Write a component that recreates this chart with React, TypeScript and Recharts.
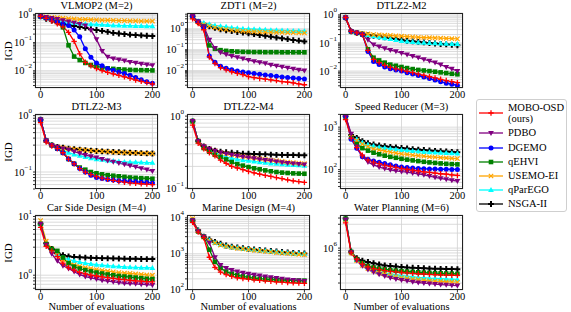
import React from "react";
import { LineChart, Line, XAxis, YAxis, CartesianGrid } from "recharts";

// ── Data (IGD, every 10 evaluations) ─────────────────────────────────────────

const EVALS = [0, 10, 20, 30, 40, 50, 60, 70, 80, 90, 100, 110, 120, 130, 140, 150, 160, 170, 180, 190, 200];
const X_TICKS = [0, 100, 200];

// VLMOP2 (M=2)
const VLMOP2_MOBO = [0.85, 0.72, 0.58, 0.46, 0.36, 0.23, 0.11, 0.04, 0.02, 0.015, 0.012, 0.0102, 0.0088, 0.0078, 0.0069, 0.0061, 0.0054, 0.0047, 0.0042, 0.0038, 0.0034];
const VLMOP2_PDBO = [0.85, 0.8, 0.74, 0.68, 0.62, 0.56, 0.5, 0.45, 0.4, 0.28, 0.13, 0.05, 0.031, 0.027, 0.025, 0.023, 0.0205, 0.019, 0.0175, 0.0166, 0.0157];
const VLMOP2_DGEMO = [0.85, 0.75, 0.65, 0.55, 0.47, 0.4, 0.28, 0.16, 0.06, 0.03, 0.019, 0.015, 0.012, 0.0104, 0.0091, 0.008, 0.0069, 0.0058, 0.0048, 0.0041, 0.0036];
const VLMOP2_QEHVI = [0.85, 0.75, 0.65, 0.55, 0.35, 0.08, 0.032, 0.024, 0.019, 0.016, 0.0145, 0.013, 0.0122, 0.0117, 0.0113, 0.011, 0.0108, 0.0106, 0.0105, 0.0104, 0.0103];
const VLMOP2_USEMO = [0.85, 0.82, 0.79, 0.76, 0.73, 0.71, 0.69, 0.67, 0.66, 0.65, 0.64, 0.63, 0.62, 0.61, 0.6, 0.6, 0.59, 0.59, 0.58, 0.58, 0.58];
const VLMOP2_QPAREGO = [0.85, 0.76, 0.68, 0.62, 0.57, 0.53, 0.5, 0.48, 0.46, 0.45, 0.44, 0.43, 0.42, 0.41, 0.41, 0.4, 0.4, 0.39, 0.39, 0.38, 0.38];
const VLMOP2_NSGA = [0.85, 0.7, 0.6, 0.52, 0.47, 0.43, 0.39, 0.36, 0.33, 0.3, 0.28, 0.26, 0.24, 0.22, 0.21, 0.2, 0.19, 0.185, 0.18, 0.175, 0.17];

// ZDT1 (M=2)
const ZDT1_MOBO = [3.0, 1.8, 0.9, 0.045, 0.022, 0.014, 0.011, 0.0088, 0.0074, 0.0064, 0.0051, 0.0046, 0.0042, 0.0039, 0.0036, 0.0033, 0.003, 0.0028, 0.0026, 0.0023, 0.0021];
const ZDT1_PDBO = [4.0, 2.2, 1.3, 0.3, 0.12, 0.075, 0.06, 0.05, 0.043, 0.037, 0.032, 0.028, 0.025, 0.022, 0.019, 0.017, 0.015, 0.0135, 0.012, 0.011, 0.01];
const ZDT1_DGEMO = [4.0, 2.2, 1.2, 0.05, 0.025, 0.016, 0.013, 0.011, 0.0095, 0.0085, 0.0078, 0.0072, 0.0067, 0.0062, 0.0058, 0.0054, 0.005, 0.0047, 0.0044, 0.0042, 0.004];
const ZDT1_QEHVI = [4.0, 2.2, 1.3, 0.16, 0.11, 0.095, 0.088, 0.084, 0.081, 0.079, 0.078, 0.077, 0.077, 0.076, 0.076, 0.076, 0.075, 0.075, 0.075, 0.075, 0.075];
const ZDT1_USEMO = [4.0, 2.1, 1.6, 1.35, 1.15, 1.0, 0.93, 0.87, 0.82, 0.78, 0.75, 0.73, 0.71, 0.7, 0.69, 0.68, 0.67, 0.66, 0.65, 0.64, 0.63];
const ZDT1_QPAREGO = [4.0, 2.3, 1.9, 1.65, 1.45, 1.35, 1.25, 1.15, 1.08, 1.03, 1.0, 0.96, 0.93, 0.9, 0.87, 0.85, 0.83, 0.81, 0.8, 0.79, 0.78];
const ZDT1_NSGA = [4.0, 2.1, 1.6, 1.3, 1.1, 0.95, 0.85, 0.78, 0.7, 0.65, 0.6, 0.55, 0.5, 0.46, 0.42, 0.38, 0.35, 0.32, 0.29, 0.27, 0.25];

// DTLZ2-M2
const M2_MOBO = [0.8, 0.26, 0.23, 0.2, 0.055, 0.026, 0.02, 0.016, 0.0135, 0.012, 0.011, 0.0098, 0.0088, 0.0078, 0.007, 0.0063, 0.0057, 0.0051, 0.0046, 0.0042, 0.0039];
const M2_PDBO = [0.8, 0.26, 0.23, 0.2, 0.13, 0.087, 0.075, 0.065, 0.056, 0.05, 0.044, 0.039, 0.034, 0.03, 0.026, 0.023, 0.02, 0.017, 0.014, 0.012, 0.01];
const M2_DGEMO = [0.8, 0.26, 0.23, 0.2, 0.05, 0.022, 0.017, 0.014, 0.012, 0.011, 0.01, 0.0088, 0.0078, 0.0069, 0.0061, 0.0054, 0.0048, 0.0042, 0.0037, 0.0034, 0.0031];
const M2_QEHVI = [0.8, 0.26, 0.23, 0.2, 0.06, 0.03, 0.024, 0.02, 0.017, 0.0155, 0.014, 0.0128, 0.0118, 0.011, 0.0105, 0.01, 0.0095, 0.009, 0.0085, 0.008, 0.0077];
const M2_USEMO = [0.8, 0.26, 0.23, 0.22, 0.21, 0.2, 0.195, 0.19, 0.185, 0.18, 0.175, 0.17, 0.165, 0.16, 0.157, 0.154, 0.151, 0.148, 0.145, 0.142, 0.14];
const M2_QPAREGO = [0.8, 0.26, 0.23, 0.21, 0.19, 0.175, 0.16, 0.15, 0.14, 0.13, 0.12, 0.115, 0.11, 0.105, 0.102, 0.1, 0.098, 0.096, 0.094, 0.093, 0.092];
const M2_NSGA = [0.8, 0.26, 0.23, 0.21, 0.19, 0.18, 0.17, 0.16, 0.15, 0.14, 0.13, 0.12, 0.115, 0.11, 0.105, 0.1, 0.096, 0.092, 0.089, 0.086, 0.083];

// DTLZ2-M3
const M3_MOBO = [0.75, 0.34, 0.29, 0.26, 0.22, 0.17, 0.14, 0.115, 0.1, 0.09, 0.083, 0.078, 0.074, 0.071, 0.068, 0.066, 0.064, 0.063, 0.062, 0.061, 0.06];
const M3_PDBO = [0.85, 0.36, 0.3, 0.28, 0.26, 0.25, 0.23, 0.215, 0.2, 0.19, 0.18, 0.17, 0.16, 0.152, 0.144, 0.137, 0.13, 0.123, 0.116, 0.11, 0.104];
const M3_DGEMO = [0.85, 0.36, 0.3, 0.26, 0.22, 0.17, 0.14, 0.115, 0.1, 0.088, 0.08, 0.077, 0.074, 0.072, 0.07, 0.069, 0.068, 0.067, 0.066, 0.065, 0.064];
const M3_QEHVI = [0.85, 0.36, 0.3, 0.26, 0.22, 0.17, 0.14, 0.12, 0.11, 0.1, 0.095, 0.091, 0.088, 0.086, 0.084, 0.082, 0.08, 0.079, 0.078, 0.077, 0.076];
const M3_USEMO = [0.85, 0.36, 0.3, 0.28, 0.27, 0.26, 0.255, 0.25, 0.245, 0.24, 0.235, 0.232, 0.229, 0.226, 0.224, 0.222, 0.22, 0.218, 0.216, 0.214, 0.212];
const M3_QPAREGO = [0.85, 0.36, 0.3, 0.27, 0.24, 0.22, 0.205, 0.195, 0.185, 0.177, 0.17, 0.165, 0.16, 0.157, 0.154, 0.152, 0.15, 0.149, 0.148, 0.147, 0.146];
const M3_NSGA = [0.85, 0.36, 0.3, 0.28, 0.27, 0.26, 0.255, 0.25, 0.245, 0.24, 0.236, 0.233, 0.23, 0.227, 0.225, 0.222, 0.22, 0.218, 0.216, 0.215, 0.213];

// DTLZ2-M4 (no DGEMO)
const M4_MOBO = [0.75, 0.42, 0.35, 0.31, 0.28, 0.245, 0.22, 0.2, 0.19, 0.18, 0.17, 0.163, 0.156, 0.15, 0.145, 0.14, 0.135, 0.13, 0.126, 0.123, 0.12];
const M4_PDBO = [0.85, 0.45, 0.38, 0.35, 0.33, 0.31, 0.3, 0.29, 0.28, 0.272, 0.265, 0.258, 0.251, 0.245, 0.24, 0.234, 0.228, 0.223, 0.219, 0.215, 0.211];
const M4_QEHVI = [0.85, 0.45, 0.36, 0.32, 0.29, 0.27, 0.25, 0.23, 0.215, 0.205, 0.196, 0.188, 0.182, 0.176, 0.171, 0.167, 0.164, 0.162, 0.16, 0.159, 0.158];
const M4_USEMO = [0.85, 0.45, 0.38, 0.35, 0.33, 0.31, 0.3, 0.29, 0.282, 0.275, 0.268, 0.262, 0.256, 0.25, 0.245, 0.24, 0.235, 0.23, 0.226, 0.222, 0.218];
const M4_QPAREGO = [0.85, 0.45, 0.37, 0.33, 0.31, 0.29, 0.27, 0.26, 0.25, 0.245, 0.24, 0.235, 0.23, 0.225, 0.22, 0.218, 0.215, 0.212, 0.21, 0.208, 0.205];
const M4_NSGA = [0.85, 0.45, 0.38, 0.35, 0.33, 0.32, 0.315, 0.31, 0.305, 0.3, 0.3, 0.298, 0.296, 0.294, 0.292, 0.29, 0.289, 0.288, 0.287, 0.286, 0.285];

// Speed Reducer (M=3)
const SR_MOBO = [1500, 550, 330, 220, 170, 150, 138, 128, 120, 113, 107, 102, 97, 93, 89, 86, 83, 80, 78, 75, 73];
const SR_PDBO = [1800, 700, 350, 200, 150, 130, 115, 106, 99, 94, 90, 87, 83, 79, 75, 70, 66, 62, 59, 56, 54];
const SR_DGEMO = [1800, 520, 320, 200, 175, 160, 150, 140, 130, 122, 116, 112, 109, 107, 105, 104, 103, 102, 102, 101, 101];
const SR_QEHVI = [1800, 550, 400, 320, 280, 250, 230, 213, 200, 190, 180, 172, 165, 159, 153, 148, 144, 140, 137, 135, 133];
const SR_USEMO = [1800, 580, 480, 400, 350, 310, 290, 272, 258, 246, 236, 228, 220, 213, 207, 201, 196, 192, 188, 185, 182];
const SR_QPAREGO = [1800, 600, 520, 440, 390, 360, 340, 325, 312, 300, 290, 282, 275, 268, 262, 257, 253, 250, 247, 244, 241];
const SR_NSGA = [1800, 650, 560, 470, 420, 390, 370, 355, 345, 335, 325, 315, 305, 297, 290, 283, 277, 272, 267, 262, 258];

// Car Side Design (M=4, no DGEMO)
const CS_MOBO = [6.5, 3.1, 2.6, 2.1, 1.6, 1.35, 1.22, 1.12, 1.05, 1.0, 0.97, 0.94, 0.91, 0.88, 0.86, 0.84, 0.82, 0.8, 0.79, 0.78, 0.77];
const CS_PDBO = [7.5, 3.3, 2.3, 1.75, 1.45, 1.3, 1.15, 1.02, 0.95, 0.9, 0.86, 0.82, 0.79, 0.77, 0.75, 0.73, 0.72, 0.71, 0.7, 0.69, 0.68];
const CS_QEHVI = [7.5, 3.4, 2.8, 2.6, 2.0, 1.6, 1.4, 1.3, 1.22, 1.16, 1.11, 1.07, 1.03, 1.0, 0.97, 0.95, 0.93, 0.91, 0.89, 0.87, 0.86];
const CS_USEMO = [8.5, 3.8, 2.8, 2.2, 1.85, 1.65, 1.5, 1.42, 1.35, 1.3, 1.25, 1.21, 1.17, 1.14, 1.11, 1.09, 1.07, 1.05, 1.03, 1.01, 1.0];
const CS_QPAREGO = [7.5, 3.5, 2.7, 2.3, 2.0, 1.85, 1.75, 1.67, 1.61, 1.56, 1.52, 1.49, 1.46, 1.43, 1.41, 1.39, 1.37, 1.36, 1.35, 1.34, 1.33];
const CS_NSGA = [7.5, 3.5, 2.8, 2.4, 2.2, 2.1, 2.05, 2.02, 2.0, 1.98, 1.96, 1.95, 1.94, 1.93, 1.92, 1.91, 1.9, 1.9, 1.89, 1.88, 1.88];

// Marine Design (M=4, no DGEMO)
const MD_MOBO = [7500, 4000, 2800, 800, 420, 310, 265, 235, 215, 205, 197, 189, 182, 176, 171, 166, 162, 158, 155, 152, 150];
const MD_PDBO = [8500, 4200, 3000, 2000, 800, 480, 400, 350, 320, 295, 275, 260, 245, 232, 220, 210, 200, 192, 185, 178, 172];
const MD_QEHVI = [8500, 4200, 3000, 1300, 600, 400, 320, 280, 255, 235, 220, 210, 202, 196, 192, 188, 185, 183, 181, 180, 179];
const MD_USEMO = [9500, 4300, 2900, 2300, 2000, 1750, 1600, 1500, 1420, 1360, 1300, 1250, 1200, 1160, 1120, 1080, 1050, 1020, 990, 960, 940];
const MD_QPAREGO = [8500, 4400, 3000, 2400, 2050, 1800, 1630, 1520, 1450, 1390, 1340, 1290, 1250, 1210, 1170, 1130, 1090, 1060, 1030, 1010, 990];
const MD_NSGA = [8500, 4500, 3000, 2500, 2150, 1900, 1700, 1580, 1500, 1430, 1370, 1320, 1280, 1240, 1200, 1160, 1120, 1090, 1060, 1040, 1020];

// Water Planning (M=6, no DGEMO)
const WP_MOBO = [3.2e6, 8.0e5, 6.0e5, 4.8e5, 4.2e5, 3.9e5, 3.7e5, 3.55e5, 3.43e5, 3.33e5, 3.25e5, 3.18e5, 3.12e5, 3.07e5, 3.03e5, 2.99e5, 2.95e5, 2.92e5, 2.89e5, 2.86e5, 2.84e5];
const WP_PDBO = [3.7e6, 8.2e5, 5.6e5, 4.4e5, 3.7e5, 3.3e5, 3.0e5, 2.75e5, 2.55e5, 2.4e5, 2.3e5, 2.2e5, 2.12e5, 2.05e5, 1.99e5, 1.94e5, 1.9e5, 1.86e5, 1.83e5, 1.8e5, 1.78e5];
const WP_QEHVI = [3.9e6, 8.4e5, 6.0e5, 5.0e5, 4.4e5, 4.1e5, 3.9e5, 3.75e5, 3.65e5, 3.55e5, 3.47e5, 3.4e5, 3.34e5, 3.28e5, 3.23e5, 3.19e5, 3.16e5, 3.13e5, 3.1e5, 3.08e5, 3.05e5];
const WP_USEMO = [3.7e6, 8.0e5, 5.6e5, 4.5e5, 3.9e5, 3.5e5, 3.2e5, 3.0e5, 2.8e5, 2.65e5, 2.55e5, 2.47e5, 2.4e5, 2.33e5, 2.27e5, 2.22e5, 2.18e5, 2.15e5, 2.12e5, 2.1e5, 2.08e5];
const WP_QPAREGO = [3.7e6, 8.3e5, 5.8e5, 4.7e5, 4.1e5, 3.7e5, 3.4e5, 3.2e5, 3.05e5, 2.93e5, 2.83e5, 2.74e5, 2.67e5, 2.6e5, 2.55e5, 2.5e5, 2.47e5, 2.44e5, 2.41e5, 2.39e5, 2.37e5];
const WP_NSGA = [3.9e6, 8.5e5, 6.3e5, 5.6e5, 5.3e5, 5.0e5, 4.7e5, 4.5e5, 4.4e5, 4.3e5, 4.2e5, 4.1e5, 4.05e5, 4.0e5, 3.95e5, 3.9e5, 3.87e5, 3.84e5, 3.82e5, 3.8e5, 3.78e5];

// ── Series styling ──────────────────────────────────────────────────────────

type Shape = "plus" | "tridown" | "circle" | "square" | "x" | "triup" | "fatplus";

const SERIES: { key: string; name: string; color: string; shape: Shape }[] = [
  { key: "mobo", name: "MOBO-OSD", color: "#ff0000", shape: "plus" },
  { key: "pdbo", name: "PDBO", color: "#800080", shape: "tridown" },
  { key: "dgemo", name: "DGEMO", color: "#0000ff", shape: "circle" },
  { key: "qehvi", name: "qEHVI", color: "#008000", shape: "square" },
  { key: "usemo", name: "USEMO-EI", color: "#ffa500", shape: "x" },
  { key: "qparego", name: "qParEGO", color: "#00ffff", shape: "triup" },
  { key: "nsga", name: "NSGA-II", color: "#000000", shape: "fatplus" },
];

const PANELS = [
  { title: "VLMOP2 (M=2)", col: 0, row: 0, domain: [0.00245, 1.12], series: { mobo: VLMOP2_MOBO, pdbo: VLMOP2_PDBO, dgemo: VLMOP2_DGEMO, qehvi: VLMOP2_QEHVI, usemo: VLMOP2_USEMO, qparego: VLMOP2_QPAREGO, nsga: VLMOP2_NSGA } },
  { title: "ZDT1 (M=2)", col: 1, row: 0, domain: [0.00147, 5.7], series: { mobo: ZDT1_MOBO, pdbo: ZDT1_PDBO, dgemo: ZDT1_DGEMO, qehvi: ZDT1_QEHVI, usemo: ZDT1_USEMO, qparego: ZDT1_QPAREGO, nsga: ZDT1_NSGA } },
  { title: "DTLZ2-M2", col: 2, row: 0, domain: [0.0025, 1.17], series: { mobo: M2_MOBO, pdbo: M2_PDBO, dgemo: M2_DGEMO, qehvi: M2_QEHVI, usemo: M2_USEMO, qparego: M2_QPAREGO, nsga: M2_NSGA } },
  { title: "DTLZ2-M3", col: 0, row: 1, domain: [0.05, 1.07], series: { mobo: M3_MOBO, pdbo: M3_PDBO, dgemo: M3_DGEMO, qehvi: M3_QEHVI, usemo: M3_USEMO, qparego: M3_QPAREGO, nsga: M3_NSGA } },
  { title: "DTLZ2-M4", col: 1, row: 1, domain: [0.097, 1.07], series: { mobo: M4_MOBO, pdbo: M4_PDBO, qehvi: M4_QEHVI, usemo: M4_USEMO, qparego: M4_QPAREGO, nsga: M4_NSGA } },
  { title: "Speed Reducer (M=3)", col: 2, row: 1, domain: [35, 2040], series: { mobo: SR_MOBO, pdbo: SR_PDBO, dgemo: SR_DGEMO, qehvi: SR_QEHVI, usemo: SR_USEMO, qparego: SR_QPAREGO, nsga: SR_NSGA } },
  { title: "Car Side Design (M=4)", col: 0, row: 2, domain: [0.56, 10.6], series: { mobo: CS_MOBO, pdbo: CS_PDBO, qehvi: CS_QEHVI, usemo: CS_USEMO, qparego: CS_QPAREGO, nsga: CS_NSGA } },
  { title: "Marine Design (M=4)", col: 1, row: 2, domain: [98, 12000], series: { mobo: MD_MOBO, pdbo: MD_PDBO, qehvi: MD_QEHVI, usemo: MD_USEMO, qparego: MD_QPAREGO, nsga: MD_NSGA } },
  { title: "Water Planning (M=6)", col: 2, row: 2, domain: [1.45e5, 4.6e6], series: { mobo: WP_MOBO, pdbo: WP_PDBO, qehvi: WP_QEHVI, usemo: WP_USEMO, qparego: WP_QPAREGO, nsga: WP_NSGA } },
];

// ── Layout ──────────────────────────────────────────────────────────────────

const FONT = '"Liberation Serif", "Times New Roman", Times, "DejaVu Serif", serif';
const COL_X = [35, 187, 340];
const ROW_Y = [13, 114, 215];
const PLOT_W = 123;
const PLOT_H = 75;
const Y_AXIS_W = 36;
const X_AXIS_H = 13;
const TOP_PAD = 10;

// major + minor log ticks inside the domain
function logTicks([lo, hi]: number[]) {
  const out: number[] = [];
  for (let e = Math.floor(Math.log10(lo)); e <= Math.ceil(Math.log10(hi)); e++) {
    for (let k = 1; k <= 9; k++) {
      const v = k * Math.pow(10, e);
      if (v >= lo && v <= hi) out.push(v);
    }
  }
  return out;
}

function LogTick(props: any) {
  const { x, y, payload } = props;
  const l = Math.log10(payload.value);
  const e = Math.round(l);
  if (Math.abs(l - e) > 1e-6) return <g />;
  const exp = e < 0 ? "\u2212" + -e : String(e);
  return (
    <text x={x} y={y} textAnchor="end" dominantBaseline="central" fontFamily={FONT} fontSize={10.5} fill="#000">
      10
      <tspan dy={-4.5} fontSize={7}>{exp}</tspan>
    </text>
  );
}

function Marker({ shape, cx, cy, color }: { shape: Shape; cx: number; cy: number; color: string }) {
  switch (shape) {
    case "plus":
      return <path d={`M${cx - 2.7},${cy}H${cx + 2.7}M${cx},${cy - 2.7}V${cy + 2.7}`} stroke={color} strokeWidth={1.3} />;
    case "tridown":
      return <polygon points={`${cx - 2.9},${cy - 2.1} ${cx + 2.9},${cy - 2.1} ${cx},${cy + 2.9}`} fill={color} />;
    case "circle":
      return <circle cx={cx} cy={cy} r={2.5} fill={color} />;
    case "square":
      return <rect x={cx - 2.3} y={cy - 2.3} width={4.6} height={4.6} fill={color} />;
    case "x":
      return <path d={`M${cx - 2.2},${cy - 2.2}L${cx + 2.2},${cy + 2.2}M${cx - 2.2},${cy + 2.2}L${cx + 2.2},${cy - 2.2}`} stroke={color} strokeWidth={1.2} />;
    case "triup":
      return <polygon points={`${cx - 2.9},${cy + 2.1} ${cx + 2.9},${cy + 2.1} ${cx},${cy - 2.9}`} fill={color} />;
    default: {
      const a = 2.9, b = 1.0;
      return (
        <polygon
          points={`${cx - b},${cy - a} ${cx + b},${cy - a} ${cx + b},${cy - b} ${cx + a},${cy - b} ${cx + a},${cy + b} ${cx + b},${cy + b} ${cx + b},${cy + a} ${cx - b},${cy + a} ${cx - b},${cy + b} ${cx - a},${cy + b} ${cx - a},${cy - b} ${cx - b},${cy - b}`}
          fill={color}
        />
      );
    }
  }
}

const makeDot = (shape: Shape, color: string) => (props: any) => {
  const { cx, cy, index } = props;
  if (cx == null || cy == null) return <g key={index} />;
  return <Marker key={index} shape={shape} cx={cx} cy={cy} color={color} />;
};

function Panel({ cfg }: { cfg: (typeof PANELS)[number] }) {
  const series = cfg.series as Record<string, number[] | undefined>;
  const rows = EVALS.map((x, i) => {
    const r: Record<string, number> = { x };
    SERIES.forEach((s) => {
      const arr = series[s.key];
      if (arr) r[s.key] = arr[i];
    });
    return r;
  });
  const left = COL_X[cfg.col];
  const top = ROW_Y[cfg.row];
  // draw MOBO-OSD last so it sits on top
  const drawOrder = [...SERIES].reverse().filter((s) => series[s.key]);

  return (
    <>
      <div style={{ position: "absolute", left: left - 10, top: top - 13, width: PLOT_W + 20, textAlign: "center", fontSize: 10.5, lineHeight: "12px", whiteSpace: "nowrap" }}>
        {cfg.title}
      </div>
      <div style={{ position: "absolute", left: left - Y_AXIS_W, top: top - TOP_PAD }}>
        <LineChart width={Y_AXIS_W + PLOT_W + 6} height={TOP_PAD + PLOT_H + X_AXIS_H} data={rows} margin={{ top: TOP_PAD, right: 6, bottom: 0, left: 0 }}>
          <CartesianGrid stroke="#d2d2d2" strokeWidth={0.8} />
          <XAxis
            dataKey="x"
            type="number"
            domain={[-10, 210]}
            ticks={X_TICKS}
            interval={0}
            height={X_AXIS_H}
            axisLine={false}
            tickSize={2.5}
            tickMargin={0.5}
            tickLine={{ stroke: "#333" }}
            tick={{ fontSize: 10.5, fontFamily: FONT, fill: "#000" }}
          />
          <YAxis
            type="number"
            scale="log"
            domain={cfg.domain}
            allowDataOverflow
            ticks={logTicks(cfg.domain)}
            interval={0}
            width={Y_AXIS_W}
            axisLine={false}
            tickSize={2}
            tickMargin={1}
            tickLine={{ stroke: "#333" }}
            tick={<LogTick />}
          />
          {drawOrder.map((s) => (
            <Line
              key={s.key}
              dataKey={s.key}
              type="linear"
              stroke={s.color}
              strokeWidth={1.3}
              dot={makeDot(s.shape, s.color)}
              activeDot={false}
              isAnimationActive={false}
            />
          ))}
        </LineChart>
        <div style={{ position: "absolute", left: Y_AXIS_W, top: TOP_PAD, width: PLOT_W, height: PLOT_H, border: "0.8px solid #222", boxSizing: "border-box", pointerEvents: "none" }} />
      </div>
    </>
  );
}

// ── Legend ──────────────────────────────────────────────────────────────────

const LEGEND_Y = [112, 132, 146.5, 161, 175, 189, 203];

function LegendBox() {
  return (
    <div style={{ position: "absolute", left: 476, top: 99, width: 91, height: 113, border: "1px solid #cfcfcf", borderRadius: 3, boxSizing: "border-box" }}>
      {SERIES.map((s, i) => {
        const cy = LEGEND_Y[i] - 99;
        return (
          <React.Fragment key={s.key}>
            <svg style={{ position: "absolute", left: 2, top: cy - 5 }} width={24} height={10}>
              <line x1={0} y1={5} x2={24} y2={5} stroke={s.color} strokeWidth={1.3} />
              <Marker shape={s.shape} cx={12} cy={5} color={s.color} />
            </svg>
            <div style={{ position: "absolute", left: 31, top: i === 0 ? cy - 11 : cy - 6, fontSize: 10.5, lineHeight: "11px", whiteSpace: "nowrap" }}>
              {i === 0 ? (
                <>
                  {s.name}
                  <br />
                  (ours)
                </>
              ) : (
                s.name
              )}
            </div>
          </React.Fragment>
        );
      })}
    </div>
  );
}

export default function App() {
  return (
    <div style={{ position: "absolute", left: 0, top: 0, width: 571, height: 312, background: "#fff", fontFamily: FONT, color: "#000", overflow: "hidden" }}>
      {PANELS.map((p) => (
        <Panel key={p.title} cfg={p} />
      ))}
      {ROW_Y.map((y) => (
        <div key={"igd" + y} style={{ position: "absolute", left: 8, top: y + PLOT_H / 2, transform: "translate(-50%, -50%) rotate(-90deg)", fontSize: 11, lineHeight: "12px", whiteSpace: "nowrap" }}>
          IGD
        </div>
      ))}
      {COL_X.map((x) => (
        <div key={"xl" + x} style={{ position: "absolute", left: x - 10, top: 302, width: PLOT_W + 20, textAlign: "center", fontSize: 10.5, lineHeight: "10px", whiteSpace: "nowrap" }}>
          Number of evaluations
        </div>
      ))}
      <LegendBox />
    </div>
  );
}
